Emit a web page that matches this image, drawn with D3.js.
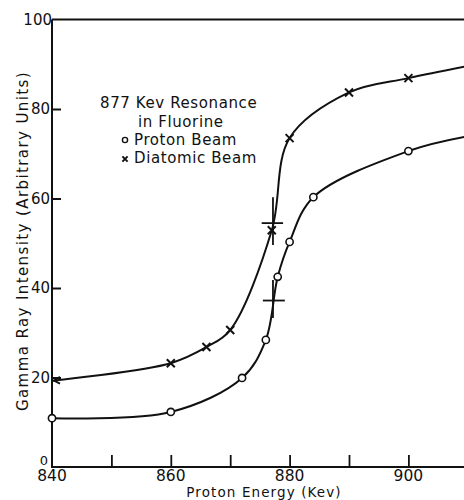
<!DOCTYPE html>
<html>
<head>
<meta charset="utf-8">
<script src="https://cdn.jsdelivr.net/npm/d3@7"></script>
<style>
  html, body { margin: 0; padding: 0; background: #fff; }
  svg { display: block; }
  text { font-family: "DejaVu Sans", sans-serif; fill: #111; }
</style>
</head>
<body>
<svg id="chart" width="464" height="500"></svg>
<script>
// ---- data ----
const protonEnergy = [840, 860, 872, 876, 878, 880, 884, 900];
const protonValue  = [10.9, 12.3, 19.9, 28.4, 42.5, 50.3, 60.3, 70.6];
const protonCurveEnd = [910, 73.9];

const diatomicEnergy = [840, 860, 866, 870, 877, 880, 890, 900];
const diatomicValue  = [19.3, 23.2, 26.8, 30.6, 52.9, 73.5, 83.7, 86.9];
const diatomicCurveEnd = [910, 89.6];

// error crosses: [energy, value, energyLo, energyHi, valueLo, valueHi]
const errorCrosses = [
  [877.2, 54.5, 875.3, 878.9, 49.6, 60.3],
  [877.2, 37.2, 875.5, 879.2, 33.3, 41.8]
];

const xTicks = [850, 860, 870, 880, 890, 900];
const xTickLabels = ["840", "860", "880", "900"];
const xLabelValues = [840, 860, 880, 900];
const yTicks = [20, 40, 60, 80];
const yTickLabels = ["0", "20", "40", "60", "80", "100"];
const yLabelValues = [0, 20, 40, 60, 80, 100];

const legendTitle = ["877 Kev Resonance", "in Fluorine"];
const legendSeries = ["Proton Beam", "Diatomic Beam"];
const xTitle = "Proton Energy (Kev)";
const yTitle = "Gamma Ray Intensity (Arbitrary Units)";

// ---- layout ----
const svg = d3.select("#chart");
const x = d3.scaleLinear().domain([840, 910]).range([52, 467.8]);
const y = d3.scaleLinear().domain([0, 100]).range([467, 19.5]);
const W = 464;

// frame: left axis, bottom axis, top line
const frame = svg.append("g").attr("stroke", "#111").attr("stroke-width", 2).attr("fill", "none");
frame.append("path").attr("d", `M${x(840)},${y(100)} L${W},${y(100)}`);
frame.append("path").attr("d", `M${x(840)},${y(100)} L${x(840)},${y(0)} L${W},${y(0)}`);

// x axis via d3.axisBottom with inward ticks
const xAxis = d3.axisBottom(x).tickValues(xTicks).tickSizeInner(-12).tickSizeOuter(0).tickFormat("");
const gx = svg.append("g").attr("transform", `translate(0,${y(0)})`).call(xAxis);
gx.select(".domain").remove();
gx.selectAll(".tick line").attr("stroke", "#111").attr("stroke-width", 1.8);

const yAxis = d3.axisLeft(y).tickValues(yTicks).tickSizeInner(-9).tickSizeOuter(0).tickFormat("");
const gy = svg.append("g").attr("transform", `translate(${x(840)},0)`).call(yAxis);
gy.select(".domain").remove();
gy.selectAll(".tick line").attr("stroke", "#111").attr("stroke-width", 2);

// tick labels
svg.append("g").selectAll("text").data(xLabelValues).join("text")
  .attr("x", d => x(d)).attr("y", 481)
  .attr("text-anchor", "middle").attr("font-size", 15.5)
  .text((d, i) => xTickLabels[i]);

svg.append("g").selectAll("text").data(yLabelValues).join("text")
  .attr("x", d => d === 0 ? 48 : (d === 100 ? 52 : 50))
  .attr("y", d => d === 0 ? y(d) - 2 : y(d) + 5)
  .attr("text-anchor", "end").attr("font-size", d => d === 0 ? 13 : 15)
  .text((d, i) => yTickLabels[i]);

// axis titles
svg.append("text").attr("x", 264).attr("y", 497).attr("text-anchor", "middle")
  .attr("font-size", 13.5).attr("letter-spacing", 1.1).text(xTitle);
svg.append("text").attr("transform", `translate(28,241) rotate(-90)`)
  .attr("text-anchor", "middle").attr("font-size", 15).attr("letter-spacing", 1.4).text(yTitle);

// curves
const clip = svg.append("clipPath").attr("id", "plotclip").append("rect")
  .attr("x", x(840)).attr("y", y(100)).attr("width", W - x(840)).attr("height", y(0) - y(100));

const line = d3.line().x(d => x(d[0])).y(d => y(d[1])).curve(d3.curveCatmullRom.alpha(0.5));
const protonPts = protonEnergy.map((e, i) => [e, protonValue[i]]);
const diatomicPts = diatomicEnergy.map((e, i) => [e, diatomicValue[i]]);

const curves = svg.append("g").attr("clip-path", "url(#plotclip)")
  .attr("fill", "none").attr("stroke", "#111").attr("stroke-width", 2);
curves.append("path").attr("d", line(protonPts.concat([protonCurveEnd])));
curves.append("path").attr("d", line(diatomicPts.concat([diatomicCurveEnd])));

// error crosses
const ec = svg.append("g").attr("stroke", "#111").attr("stroke-width", 1.8);
errorCrosses.forEach(c => {
  ec.append("line").attr("x1", x(c[2])).attr("x2", x(c[3])).attr("y1", y(c[1])).attr("y2", y(c[1]));
  ec.append("line").attr("x1", x(c[0])).attr("x2", x(c[0])).attr("y1", y(c[4])).attr("y2", y(c[5]));
});

// markers
function drawX(g, cx, cy, s) {
  g.append("path").attr("d", `M${cx - s},${cy - s} L${cx + s},${cy + s} M${cx - s},${cy + s} L${cx + s},${cy - s}`)
    .attr("stroke", "#111").attr("stroke-width", 2).attr("fill", "none");
}
const mk = svg.append("g");
diatomicPts.forEach((p, i) => {
  if (i === 0) {
    // truncated mark at the axis
    mk.append("path").attr("d", `M${x(p[0]) + 8},${y(p[1]) - 4} L${x(p[0]) + 2},${y(p[1])} L${x(p[0]) + 8},${y(p[1]) + 3}`)
      .attr("stroke", "#111").attr("stroke-width", 1.8).attr("fill", "none");
  } else {
    drawX(mk, x(p[0]), y(p[1]), 4);
  }
});
mk.selectAll("circle").data(protonPts).join("circle")
  .attr("cx", d => x(d[0])).attr("cy", d => y(d[1])).attr("r", 3.6)
  .attr("fill", "#fff").attr("stroke", "#111").attr("stroke-width", 1.6);

// legend
const lg = svg.append("g").attr("font-size", 15).attr("letter-spacing", 0.6);
lg.append("text").attr("x", 100).attr("y", 108).text(legendTitle[0]);
lg.append("text").attr("x", 138).attr("y", 127).text(legendTitle[1]);
lg.append("circle").attr("cx", 125).attr("cy", 140).attr("r", 2.6)
  .attr("fill", "#fff").attr("stroke", "#111").attr("stroke-width", 1.4);
lg.append("text").attr("x", 134).attr("y", 145).text(legendSeries[0]);
drawX(lg, 125, 159, 2.6);
lg.append("text").attr("x", 134).attr("y", 163).text(legendSeries[1]);
</script>
</body>
</html>
